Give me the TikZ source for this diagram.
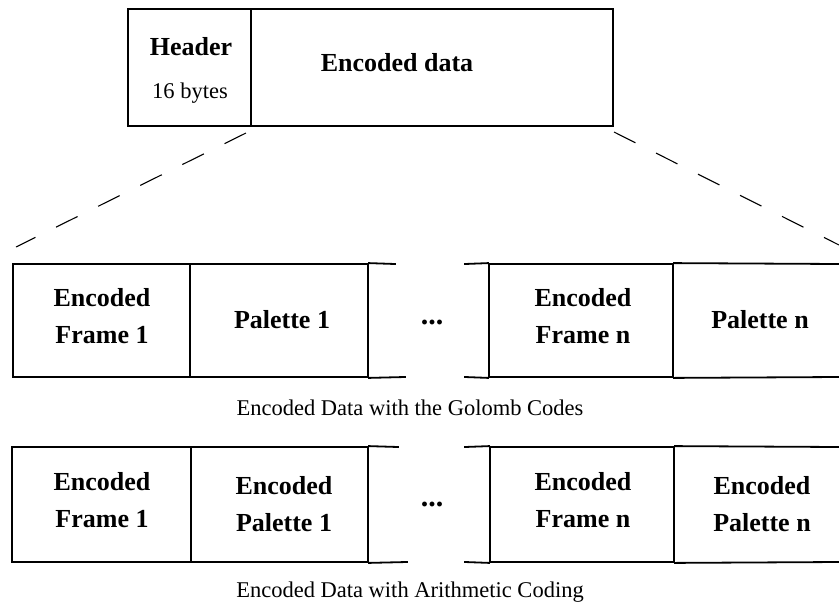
\documentclass[tikz,border=0pt]{standalone}
\usepackage{fontspec}
\setmainfont{Liberation Serif}
\begin{document}
\begin{tikzpicture}[x=1pt,y=-1pt,
  cell/.style={draw,line width=1.8pt,inner sep=0pt,minimum width=#1},
  rowA/.style={minimum height=113pt},
  rowB/.style={minimum height=115pt},
  lbl/.style={font=\fontsize{26}{37}\selectfont\bfseries,align=center,inner sep=0pt},
  dots/.style={font=\fontsize{30}{30}\selectfont\bfseries,inner sep=0pt},
  small/.style={font=\fontsize{22.5}{27}\selectfont,inner sep=0pt},
  edge/.style={line width=1.8pt,line cap=rect},
  dashline/.style={line width=1.1pt,dash pattern=on 24pt off 23pt}]
\useasboundingbox (0,0) rectangle (839,606);
% top record
\node[cell=123pt,minimum height=117pt] (hdr) at (189.5,67.5) {};
\node[cell=362pt,minimum height=117pt] (enc) at (432,67.5) {};
\node[lbl] (hdrt) at (191,47) {Header};
\node[small] (hdrs) at (190,93) {16 bytes};
\node[lbl] (enct) at (397,63) {Encoded data};
% dashed fan-out
\coordinate (dl1) at (246,133);
\coordinate (dl2) at (16,247);
\coordinate (dr1) at (614,132);
\coordinate (dr2) at (839,245);
\draw[dashline] (dl1) -- (dl2);
\draw[dashline] (dr1) -- (dr2);
% row 1
\node[cell=177pt,rowA] (a1) at (101.5,320.5) {};
\node[cell=178pt,rowA] (a2) at (279,320.5) {};
\coordinate (a2t) at (395,264);
\coordinate (a2b) at (405,377);
\draw[edge] (a2.north east) -- (a2t);
\draw[edge] (a2.south east) -- (a2b);
\node[cell=184pt,rowA] (a3) at (581,320.5) {};
\coordinate (a3t) at (465,264);
\coordinate (a3b) at (465,377);
\draw[edge] (a3.north west) -- (a3t);
\draw[edge] (a3.south west) -- (a3b);
\coordinate (a4t) at (839,264);
\coordinate (a4b) at (839,377);
\draw[edge] (a3.north east) -- (a4t);
\draw[edge] (a3.south east) -- (a4b);
\node[lbl] (a1t) at (102,316.5) {Encoded\\Frame 1};
\node[lbl] (a2l) at (282,320) {Palette 1};
\node[dots] (adots) at (432,322) {...};
\node[lbl] (a3l) at (583,316.5) {Encoded\\Frame n};
\node[lbl] (a4l) at (760,320) {Palette n};
\node[small] (cap1) at (410,408) {Encoded Data with the Golomb Codes};
% row 2
\node[cell=179pt,rowB] (b1) at (101.5,504.5) {};
\node[cell=177pt,rowB] (b2) at (279.5,504.5) {};
\coordinate (b2t) at (398,447);
\coordinate (b2b) at (407,562);
\draw[edge] (b2.north east) -- (b2t);
\draw[edge] (b2.south east) -- (b2b);
\node[cell=184pt,rowB] (b3) at (582,504.5) {};
\coordinate (b3t) at (465,447);
\coordinate (b3b) at (465,562);
\draw[edge] (b3.north west) -- (b3t);
\draw[edge] (b3.south west) -- (b3b);
\coordinate (b4t) at (839,447);
\coordinate (b4b) at (839,562);
\draw[edge] (b3.north east) -- (b4t);
\draw[edge] (b3.south east) -- (b4b);
\node[lbl] (b1l) at (102,500) {Encoded\\Frame 1};
\node[lbl] (b2l) at (284,504) {Encoded\\Palette 1};
\node[dots] (bdots) at (432,504) {...};
\node[lbl] (b3l) at (583,500) {Encoded\\Frame n};
\node[lbl] (b4l) at (762,504) {Encoded\\Palette n};
\node[small] (cap2) at (410,592) {Encoded Data with Arithmetic Coding};
\end{tikzpicture}
\end{document}
